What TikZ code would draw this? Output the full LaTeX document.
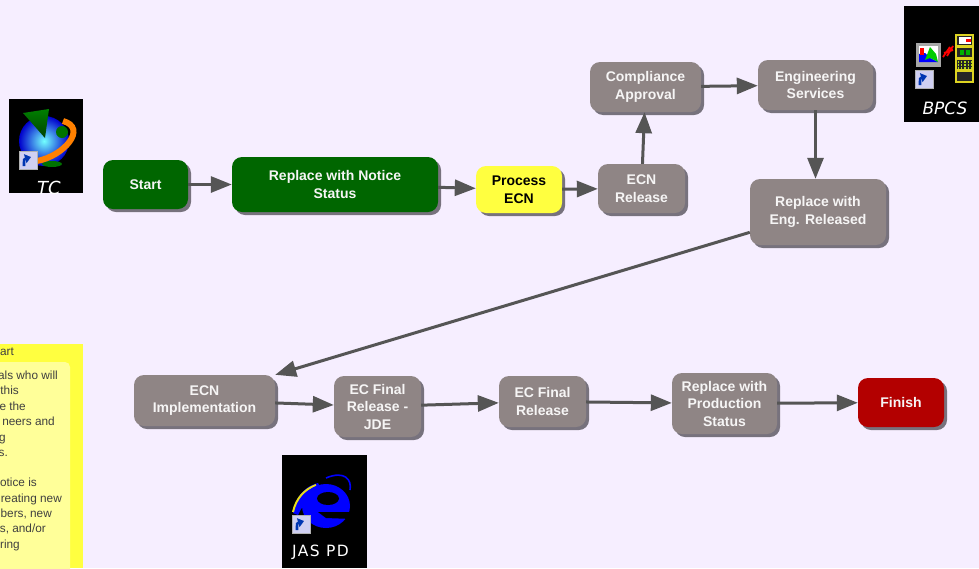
\documentclass[tikz,border=0pt]{standalone}
\usepackage{fontspec}
\setmainfont{Liberation Sans}
\newfontfamily\iconfont{DejaVu Sans}
\usepackage{tikz}
\usetikzlibrary{shapes,arrows.meta,positioning,shadows}

\definecolor{pagebg}{HTML}{F6EEFF}
\definecolor{stepgray}{HTML}{8F8585}
\definecolor{stepgreen}{HTML}{006600}
\definecolor{stepyellow}{HTML}{FFFF40}
\definecolor{stepred}{HTML}{B30000}
\definecolor{stepshadow}{HTML}{77727D}
\definecolor{notepale}{HTML}{FFFF99}
\definecolor{linegray}{HTML}{555555}

\tikzset{
    stepbox/.style={rounded corners=10pt, minimum width=#1, align=center, inner sep=0pt,
        font=\fontsize{14}{17.5}\selectfont\bfseries, text=white!92!stepgray, fill=stepgray,
        drop shadow={shadow xshift=3pt, shadow yshift=-3pt, fill=stepshadow, opacity=1}},
    flow/.style={draw=linegray, line width=3pt, -{Triangle[length=21pt,width=16pt]}},
    notetext/.style={anchor=base east, inner sep=0pt, font=\fontsize{11.8}{14}\selectfont, text=black!75},
    icontext/.style={inner sep=0pt, text=white, font=\iconfont\itshape\fontsize{17}{17}\selectfont},
}

% small shortcut badge on the icons
\newcommand{\shortcutbadge}[2]{
    \draw[gray!60, fill=white!85!blue!90!gray, line width=0.8pt] (#1,#2) rectangle +(18,18);
    \draw[blue!70!cyan!70!black, line width=2.6pt, -{Triangle[length=6pt,width=9pt]}]
        (#1+5,#2+15) .. controls (#1+5,#2+8) .. (#1+12,#2+6);
}

\begin{document}
\begin{tikzpicture}[x=1pt, y=-1pt]
    \useasboundingbox (0,0) rectangle (979,568);
    \fill[pagebg] (0,0) rectangle (979,568);

    % note at the left edge
    \fill[stepyellow] (0,344) rectangle (83,568);
    \fill[notepale, rounded corners=5pt] (-10,362) rectangle (70,580);
    \foreach \n/\x/\y/\t in {a/14/355/art, b/58/379/als who will, c/19/394/this, d/26/410/e the,
        e/55/425/neers and, f/6/441/g, g/8/456/s., h/37/486/otice is, i/62/502/reating new,
        j/52/517/{bers, new}, k/46/532/{s, and/or}, l/20/548/ring} {
        \node[notetext] (note\n) at (\x,\y) {\t};
    }

    % top row
    \node[stepbox=85pt, minimum height=49pt, fill=stepgreen] (start) at (145.5,184.5) {Start};
    \node[stepbox=206pt, minimum height=55pt, fill=stepgreen] (notice) at (335,184.5) {Replace with Notice\\Status};
    \node[stepbox=86pt, minimum height=47pt, fill=stepyellow, text=black] (process) at (519,189.5) {Process\\ECN};
    \node[stepbox=87pt, minimum height=49pt] (ecnrelease) at (641.5,188.5) {ECN\\Release};
    \node[stepbox=111pt, minimum height=50pt] (compliance) at (645.5,87) {Compliance\\Approval};
    \node[stepbox=115pt, minimum height=50pt] (engservices) at (815.5,85) {Engineering\\Services};
    \node[stepbox=136pt, minimum height=66pt] (engreleased) at (818,212) {Replace with\\Eng. Released};

    % bottom row
    \node[stepbox=141pt, minimum height=51pt] (implement) at (204.5,400.5) {ECN\\Implementation};
    \node[stepbox=87pt, minimum height=61pt] (jde) at (377.5,406.5) {EC Final\\Release -\\JDE};
    \node[stepbox=87pt, minimum height=51pt] (finalrelease) at (542.5,401.5) {EC Final\\Release};
    \node[stepbox=105pt, minimum height=61pt] (production) at (724.5,403.5) {Replace with\\Production\\Status};
    \node[stepbox=86pt, minimum height=49pt, fill=stepred] (finish) at (901,402.5) {Finish};

    % connectors
    \draw[flow] (start) -- (notice);
    \draw[flow] (notice) -- (process);
    \draw[flow] (process) -- (ecnrelease);
    \draw[flow] (ecnrelease) -- (compliance);
    \draw[flow] (compliance) -- (engservices);
    \draw[flow] (engservices) -- (engservices |- engreleased.north);
    \draw[flow] (engreleased) -- (implement.north east);
    \draw[flow] (implement) -- (jde);
    \draw[flow] (jde) -- (finalrelease);
    \draw[flow] (finalrelease) -- (production);
    \draw[flow] (production) -- (finish);

    % TC icon
    \fill[black] (9,99) rectangle (83,193);
    \begin{scope}
        \clip (9,99) rectangle (83,193);
        \shade[inner color=cyan!55!white, outer color=blue!80!black] (44,141) circle (25);
        \fill[green!45!black] (62,132) circle (6);
        \fill[green!45!black] (52,164) ellipse (10 and 3);
        \draw[orange, line width=6pt] (37,161) .. controls (64,156) and (88,128) .. (63,121);
        \shade[top color=green!50!black, bottom color=green!25!black] (23,113) -- (49,109) -- (45,138) -- cycle;
        \node[icontext, font=\iconfont\itshape\fontsize{18}{18}\selectfont] (tclabel) at (49,188) {TC};
    \end{scope}
    \shortcutbadge{19}{151}

    % BPCS icon
    \fill[black] (904,6) rectangle (979,122);
    \fill[gray!70] (916,43) rectangle (941,67);
    \fill[white] (919,46) rectangle (938,62);
    \fill[blue] (919,62) -- (919,54) -- (925,53) -- (930,58) -- (938,62) -- cycle;
    \fill[green!80!black] (925,60) -- (930,47) -- (936,54) -- (938,62) -- (930,58) -- cycle;
    \fill[red] (920,48) rectangle (924,55);
    \shortcutbadge{915}{70}
    \draw[red, line width=1.8pt] (943,57) -- (950,47) (947,56) -- (953,46) (944,53) -- (953,50);
    \foreach \y in {35,47,59,71} {
        \draw[yellow!85!black, fill=gray!30!black, line width=1.4pt] (956,\y) rectangle (973,\y+11);
    }
    \fill[white] (959,37) rectangle (971,44);
    \fill[red] (966,39) rectangle (971,42);
    \fill[green!70!black] (960,50) rectangle (964,55);
    \fill[green!70!black] (966,50) rectangle (970,55);
    \draw[yellow!70!green, line width=1.2pt, dotted] (958,62) -- (971,62) (958,65) -- (971,65) (958,68) -- (971,68);
    \node[icontext] (bpcslabel) at (945,108) {BPCS};

    % JAS PD icon
    \fill[black] (282,455) rectangle (367,568);
    \fill[blue] (293,513) .. controls (295,497) and (305,486) .. (318,483) -- (322,490) .. controls (312,494) and (304,502) .. (298,515) -- cycle;
    \draw[yellow!90!black, line width=2pt] (293,512) .. controls (296,498) and (305,489) .. (316,485);
    \fill[blue] (326,506) ellipse (24 and 22);
    \fill[black] (328,498.5) ellipse (11 and 6.5);
    \fill[black] (318,512) -- (352,512) -- (352,519) -- (326,518) -- cycle;
    \draw[blue, line width=1.6pt] (326,478) .. controls (345,470) and (352,480) .. (350,490);
    \shortcutbadge{292}{515}
    \node[icontext, font=\iconfont\fontsize{15.5}{16}\selectfont\addfontfeature{LetterSpace=9}] (jaslabel) at (320.5,552) {JAS PD};
\end{tikzpicture}
\end{document}
